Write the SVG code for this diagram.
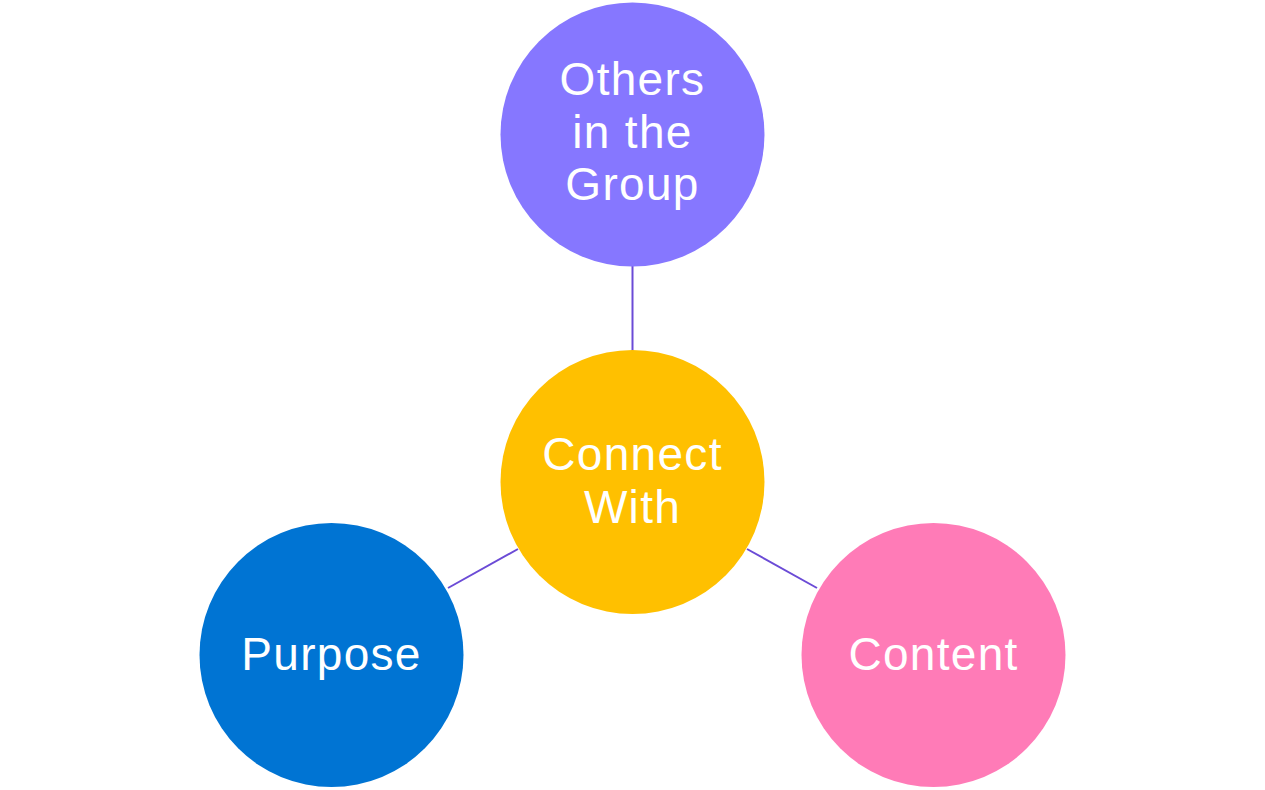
<svg xmlns="http://www.w3.org/2000/svg" width="1265" height="790" viewBox="0 0 1265 790">
<style>
.lbl{font-family:"Liberation Sans",Arial,sans-serif;font-size:46px;fill:#ffffff;text-anchor:middle;letter-spacing:1.3px}
.conn{stroke:#6B4BD6;stroke-width:2;fill:none}
</style>
<rect width="1265" height="790" fill="#ffffff"/>
<g id="connectors">
<line class="conn" x1="632.5" y1="266" x2="632.5" y2="351"/>
<line class="conn" x1="448" y1="588" x2="518" y2="549"/>
<line class="conn" x1="817" y1="588" x2="747" y2="549"/>
</g>
<g id="others">
<circle cx="632.5" cy="134.5" r="132" fill="#8677FF"/>
<text class="lbl" x="632.5" y="95">Others</text>
<text class="lbl" x="632.5" y="148">in the</text>
<text class="lbl" x="632.5" y="200">Group</text>
</g>
<g id="connect">
<circle cx="632.5" cy="482" r="132" fill="#FFC000"/>
<text class="lbl" x="632.5" y="470">Connect</text>
<text class="lbl" x="632.5" y="523">With</text>
</g>
<g id="purpose">
<circle cx="331.5" cy="655" r="132" fill="#0074D3"/>
<text class="lbl" x="331.5" y="670">Purpose</text>
</g>
<g id="content">
<circle cx="933.5" cy="655" r="132" fill="#FF7BB7"/>
<text class="lbl" x="933.5" y="670">Content</text>
</g>
</svg>
